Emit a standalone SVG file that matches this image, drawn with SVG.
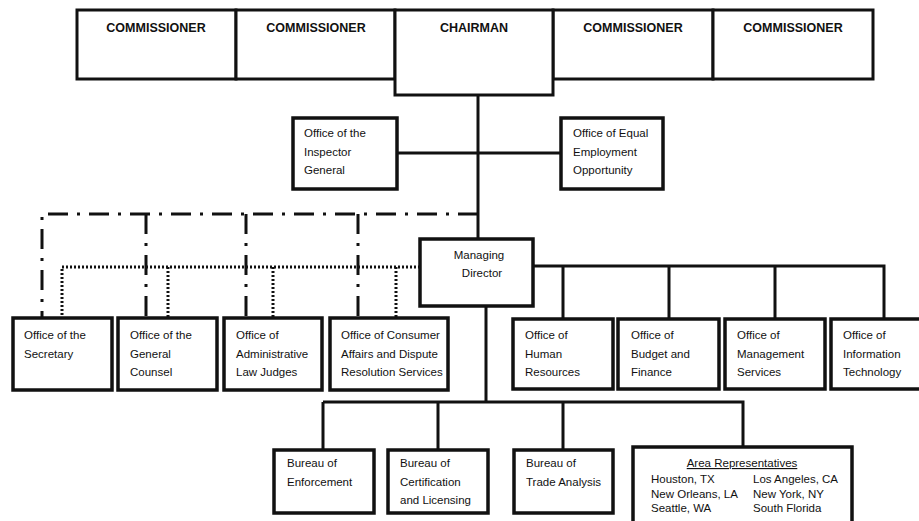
<svg xmlns="http://www.w3.org/2000/svg" width="919" height="521" viewBox="0 0 919 521">
<style>
.box{fill:#fff;stroke:#111;stroke-width:3.5}
.top{fill:#fff;stroke:#111;stroke-width:3}
.t{font-family:"Liberation Sans",Arial,sans-serif;font-size:11.5px;fill:#111}
.b{font-family:"Liberation Sans",Arial,sans-serif;font-size:12.5px;font-weight:bold;fill:#111;text-anchor:middle}
.solid{fill:none;stroke:#111;stroke-width:3}
.dd{fill:none;stroke:#111;stroke-width:3;stroke-dasharray:20 9 3 9}
.dot{fill:none;stroke:#111;stroke-width:3;stroke-dasharray:2 2}
</style>
<rect width="919" height="521" fill="#fff"/>
<g id="connectors">
<path class="solid" d="M478 95V239"/>
<path class="solid" d="M397 153H561"/>
<path class="dd" d="M478 214H42V318M146 214V318M246 214V318M358 214V318"/>
<path class="dot" d="M420 267H62V318M168 267V318M273 267V318M396 267V318"/>
<path class="solid" d="M533 266H884V319M563 266V319M669 266V319M775 266V319"/>
<path class="solid" d="M486 306V402M323 402H743V447M323 402V450M438 402V450M563 402V450"/>
</g>
<g id="commissioner1"><rect class="top" x="77" y="10" width="159" height="69"/><text class="b" x="156" y="32">COMMISSIONER</text></g>
<g id="commissioner2"><rect class="top" x="236" y="10" width="159" height="69"/><text class="b" x="316" y="32">COMMISSIONER</text></g>
<g id="commissioner3"><rect class="top" x="553" y="10" width="160" height="69"/><text class="b" x="633" y="32">COMMISSIONER</text></g>
<g id="commissioner4"><rect class="top" x="713" y="10" width="160" height="69"/><text class="b" x="793" y="32">COMMISSIONER</text></g>
<g id="chairman"><rect class="top" x="395" y="10" width="158" height="85"/><text class="b" x="474" y="32">CHAIRMAN</text></g>
<g id="inspector"><rect class="box" x="293" y="118" width="104" height="71"/><text class="t"><tspan x="304" y="137">Office of the</tspan><tspan x="304" y="155.5">Inspector</tspan><tspan x="304" y="174">General</tspan></text></g>
<g id="eeo"><rect class="box" x="561" y="118" width="102" height="71"/><text class="t"><tspan x="573" y="137">Office of Equal</tspan><tspan x="573" y="155.5">Employment</tspan><tspan x="573" y="174">Opportunity</tspan></text></g>
<g id="managing"><rect class="box" x="420" y="239" width="113" height="67"/><text class="t" text-anchor="middle"><tspan x="479" y="259">Managing</tspan><tspan x="482" y="277">Director</tspan></text></g>
<g id="secretary"><rect class="box" x="13" y="318" width="99" height="72"/><text class="t"><tspan x="24" y="339">Office of the</tspan><tspan x="24" y="357.5">Secretary</tspan></text></g>
<g id="counsel"><rect class="box" x="118" y="318" width="99" height="72"/><text class="t"><tspan x="130" y="339">Office of the</tspan><tspan x="130" y="357.5">General</tspan><tspan x="130" y="376">Counsel</tspan></text></g>
<g id="alj"><rect class="box" x="224" y="318" width="98" height="72"/><text class="t"><tspan x="236" y="339">Office of</tspan><tspan x="236" y="357.5">Administrative</tspan><tspan x="236" y="376">Law Judges</tspan></text></g>
<g id="consumer"><rect class="box" x="330" y="318" width="118" height="72"/><text class="t"><tspan x="341" y="339">Office of Consumer</tspan><tspan x="341" y="357.5">Affairs and Dispute</tspan><tspan x="341" y="376">Resolution Services</tspan></text></g>
<g id="hr"><rect class="box" x="513" y="319" width="100" height="70"/><text class="t"><tspan x="525" y="339">Office of</tspan><tspan x="525" y="357.5">Human</tspan><tspan x="525" y="376">Resources</tspan></text></g>
<g id="budget"><rect class="box" x="618" y="319" width="101" height="70"/><text class="t"><tspan x="631" y="339">Office of</tspan><tspan x="631" y="357.5">Budget and</tspan><tspan x="631" y="376">Finance</tspan></text></g>
<g id="management"><rect class="box" x="725" y="319" width="100" height="70"/><text class="t"><tspan x="737" y="339">Office of</tspan><tspan x="737" y="357.5">Management</tspan><tspan x="737" y="376">Services</tspan></text></g>
<g id="it"><rect class="box" x="831" y="319" width="100" height="70"/><text class="t"><tspan x="843" y="339">Office of</tspan><tspan x="843" y="357.5">Information</tspan><tspan x="843" y="376">Technology</tspan></text></g>
<g id="enforcement"><rect class="box" x="274" y="450" width="100" height="63"/><text class="t"><tspan x="287" y="467">Bureau of</tspan><tspan x="287" y="486">Enforcement</tspan></text></g>
<g id="certification"><rect class="box" x="388" y="450" width="100" height="63"/><text class="t"><tspan x="400" y="467">Bureau of</tspan><tspan x="400" y="486">Certification</tspan><tspan x="400" y="504">and Licensing</tspan></text></g>
<g id="trade"><rect class="box" x="514" y="450" width="99" height="63"/><text class="t"><tspan x="526" y="467">Bureau of</tspan><tspan x="526" y="486">Trade Analysis</tspan></text></g>
<g id="area"><rect class="box" x="633" y="447" width="219" height="80"/><text class="t" x="742" y="467" text-anchor="middle" text-decoration="underline">Area Representatives</text><text class="t"><tspan x="651" y="483">Houston, TX</tspan><tspan x="651" y="497.5">New Orleans, LA</tspan><tspan x="651" y="512">Seattle, WA</tspan></text><text class="t"><tspan x="753" y="483">Los Angeles, CA</tspan><tspan x="753" y="497.5">New York, NY</tspan><tspan x="753" y="512">South Florida</tspan></text></g>
</svg>
